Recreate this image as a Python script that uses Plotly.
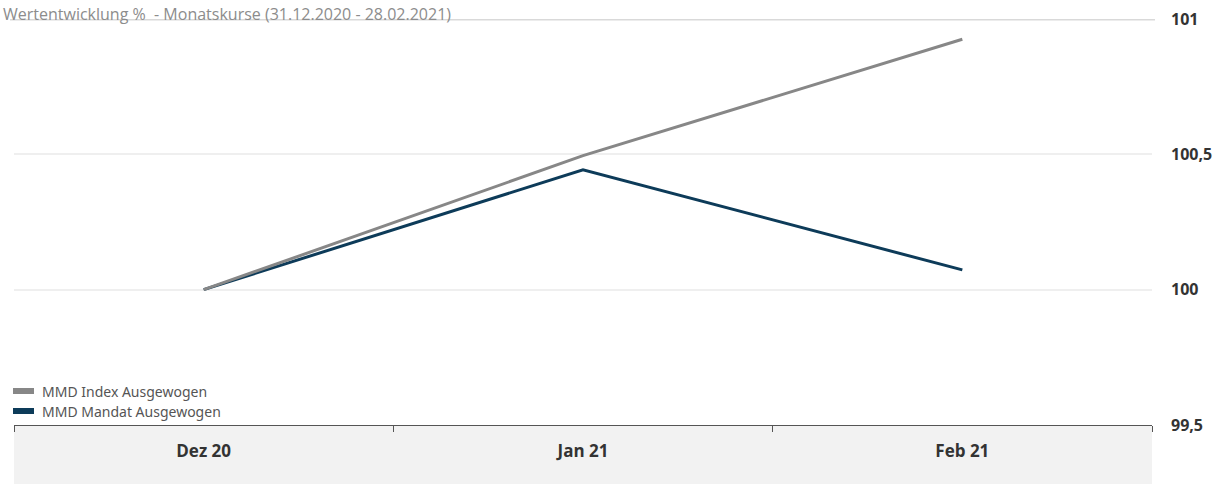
import plotly.graph_objects as go

categories = ["Dez 20", "Jan 21", "Feb 21"]
index_name = "MMD Index Ausgewogen"
mandat_name = "MMD Mandat Ausgewogen"
index_values = [100.0, 100.495, 100.925]
mandat_values = [100.0, 100.443, 100.073]
y_ticks = [99.5, 100, 100.5, 101]
title_text = "Wertentwicklung %  - Monatskurse (31.12.2020 - 28.02.2021)"

index_color = "#878787"
mandat_color = "#0d3b59"

W, H = 1225, 484
ml, mr, mt, mb = 14, 73, 19, 59
pw = W - ml - mr
ph = H - mt - mb

def px_x(p):
    return (p - ml) / pw

def px_y(p):
    return (H - mb - p) / ph

fig = go.Figure()
fig.add_trace(go.Scatter(x=categories, y=mandat_values, mode="lines",
                         line=dict(color=mandat_color, width=3), name=mandat_name,
                         showlegend=False))
fig.add_trace(go.Scatter(x=categories, y=index_values, mode="lines",
                         line=dict(color=index_color, width=3), name=index_name,
                         showlegend=False))

shapes = [
    dict(type="rect", xref="paper", yref="paper", x0=0, x1=1, y0=-mb / ph, y1=0,
         fillcolor="#f2f2f2", line=dict(width=0), layer="below"),
    dict(type="line", xref="paper", yref="y", x0=px_x(10), x1=px_x(1155), y0=101, y1=101,
         line=dict(color="#d9d9d9", width=3)),
]
annotations = [
    dict(text=title_text, xref="paper", yref="paper", x=px_x(2), y=px_y(2),
         xanchor="left", yanchor="top", showarrow=False, borderpad=0,
         font=dict(family="Open Sans", size=16, color="#8c8c8c")),
]
for i, (name, color) in enumerate([(index_name, index_color), (mandat_name, mandat_color)]):
    cy = 391 + 20 * i
    shapes.append(dict(type="rect", xref="paper", yref="paper",
                       x0=px_x(13), x1=px_x(34), y0=px_y(cy - 3), y1=px_y(cy + 3),
                       fillcolor=color, line=dict(width=0)))
    annotations.append(dict(text=name, xref="paper", yref="paper", x=px_x(40), y=px_y(cy),
                            xanchor="left", yanchor="middle", showarrow=False,
                            font=dict(family="Noto Sans", size=14, color="#555555")))

fig.update_layout(
    width=W, height=H,
    margin=dict(l=ml, r=mr, t=mt, b=mb, autoexpand=False),
    paper_bgcolor="white", plot_bgcolor="white",
    separators=",.",
    showlegend=False,
    shapes=shapes,
    annotations=annotations,
    xaxis=dict(type="category", range=[-0.5, 2.5], showgrid=False, automargin=False,
               showline=True, linecolor="#555555", linewidth=1,
               ticks="outside", tickson="boundaries", ticklen=6, tickcolor="#555555",
               ticklabelstandoff=11,
               tickfont=dict(family="Open Sans", size=17, color="#333333", weight="bold")),
    yaxis=dict(side="right", range=[99.5, 101], tickvals=y_ticks, automargin=False,
               showgrid=True, gridcolor="#efefef", gridwidth=2, zeroline=False,
               showline=False, ticks="", ticklabelstandoff=18,
               tickfont=dict(family="Open Sans", size=16, color="#333333", weight="bold")),
)

fig.write_html("out.html")
